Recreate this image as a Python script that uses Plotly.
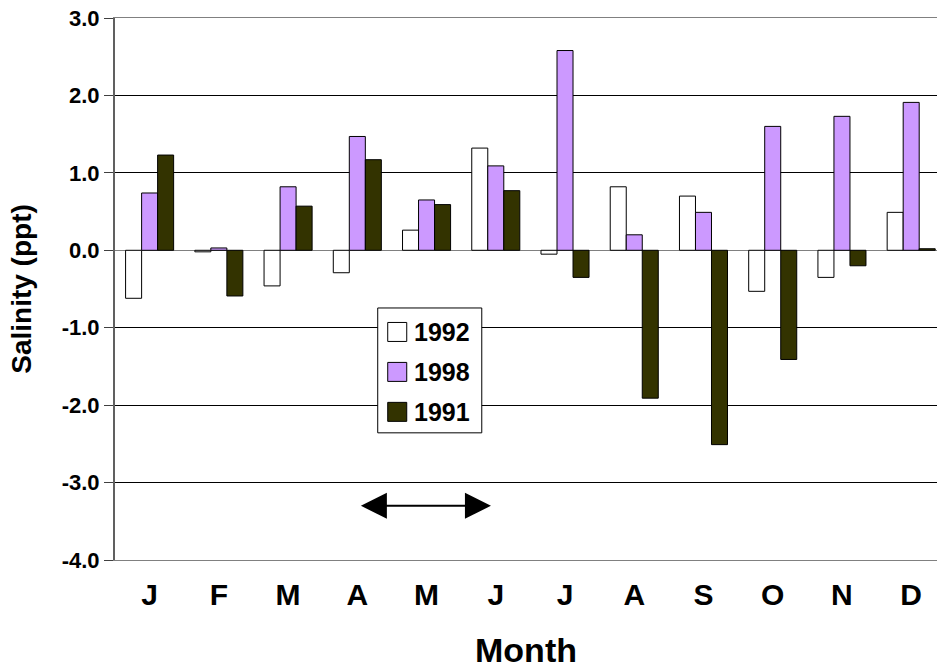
import plotly.graph_objects as go

# Monthly salinity anomaly (ppt) for three years
months = ["J", "F", "M", "A", "M", "J", "J", "A", "S", "O", "N", "D"]
years = ["1992", "1998", "1991"]
sal_1992 = [-0.62, -0.02, -0.46, -0.29, 0.26, 1.32, -0.05, 0.82, 0.70, -0.53, -0.35, 0.49]
sal_1998 = [0.74, 0.03, 0.82, 1.47, 0.65, 1.09, 2.58, 0.20, 0.49, 1.60, 1.73, 1.91]
sal_1991 = [1.23, -0.59, 0.57, 1.17, 0.59, 0.77, -0.35, -1.91, -2.51, -1.41, -0.20, 0.02]
colors = ["#FFFFFF", "#CC99FF", "#333300"]

# Period marked by the double-headed arrow (category index range)
arrow_start, arrow_end, arrow_level = 3.03, 4.93, -3.30

FONT = "Liberation Sans, Arial, sans-serif"
W, H = 937, 669
M_L, M_R, M_T, M_B = 115.4, 0, 17.7, 108.7
plot_w = W - M_L - M_R
plot_h = H - M_T - M_B

x_idx = list(range(len(months)))

fig = go.Figure()
for name, vals, col in zip(years, [sal_1992, sal_1998, sal_1991], colors):
    fig.add_trace(go.Bar(
        x=x_idx, y=vals, name=name,
        marker=dict(color=col, line=dict(color="black", width=1)),
        showlegend=False,
    ))


def px_x(px):
    return (px - M_L) / plot_w


def px_y(py):
    return (H - M_B - py) / plot_h


shapes = []
annotations = []

# Legend box with swatches and labels
shapes.append(dict(type="rect", xref="paper", yref="paper",
                   x0=px_x(378), x1=px_x(482), y0=px_y(433), y1=px_y(308),
                   line=dict(color="black", width=1), fillcolor="white", layer="above"))
for i, (name, col) in enumerate(zip(years, colors)):
    cy = 332 + 40 * i
    shapes.append(dict(type="rect", xref="paper", yref="paper",
                       x0=px_x(388), x1=px_x(407), y0=px_y(cy + 9.5), y1=px_y(cy - 9.5),
                       line=dict(color="black", width=1), fillcolor=col, layer="above"))
    annotations.append(dict(xref="paper", yref="paper", x=px_x(412), y=px_y(cy),
                            xanchor="left", yanchor="middle", text=name, showarrow=False,
                            font=dict(family=FONT, size=25, color="black", weight="bold")))

# Double-headed arrow
annotations.append(dict(
    xref="x", yref="y", axref="x", ayref="y",
    x=arrow_end, y=arrow_level, ax=arrow_start, ay=arrow_level,
    text="", showarrow=True, arrowside="end+start",
    arrowhead=2, startarrowhead=2, arrowsize=2.6, startarrowsize=2.6,
    arrowwidth=2, arrowcolor="black",
))

fig.update_layout(
    width=W, height=H,
    margin=dict(l=M_L, r=M_R, t=M_T, b=M_B, pad=0),
    paper_bgcolor="white", plot_bgcolor="white",
    barmode="group", bargap=0.306, bargroupgap=0,
    shapes=shapes, annotations=annotations,
    font=dict(family=FONT, color="black"),
)

fig.update_xaxes(
    range=[-0.5, -0.5 + plot_w / 69.2],
    tickmode="array", tickvals=x_idx, ticktext=months,
    tickfont=dict(family=FONT, size=30, color="black", weight="bold"),
    ticks="outside", ticklen=8, tickcolor="rgba(0,0,0,0)",
    showgrid=False, zeroline=False,
    showline=True, mirror=True, linecolor="#808080", linewidth=1,
    title=dict(text="Month", standoff=32,
               font=dict(family=FONT, size=34, color="black", weight="bold")),
)

fig.update_yaxes(
    range=[-4, 3], tickmode="array",
    tickvals=[3, 2, 1, 0, -1, -2, -3, -4],
    ticktext=["3.0", "2.0", "1.0", "0.0", "-1.0", "-2.0", "-3.0", "-4.0"],
    tickfont=dict(family=FONT, size=22, color="black", weight="bold"),
    ticks="outside", ticklen=9, tickcolor="#404040", tickwidth=1,
    showgrid=True, gridcolor="black", gridwidth=1,
    zeroline=True, zerolinecolor="#808080", zerolinewidth=1,
    showline=True, linecolor="#606060", linewidth=2,
    title=dict(text="Salinity (ppt)", standoff=22,
               font=dict(family=FONT, size=28, color="black", weight="bold")),
)

fig.write_html("out.html")
